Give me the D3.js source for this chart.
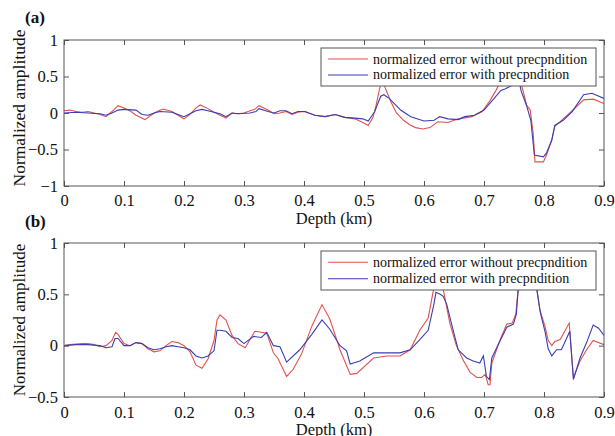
<!DOCTYPE html>
<html>
<head>
<meta charset="utf-8">
<script src="https://cdn.jsdelivr.net/npm/d3@7"></script>
<style>
  html, body { margin: 0; padding: 0; background: #fff; }
  svg text { font-family: "Liberation Serif", "Times New Roman", serif; fill: #111; }
</style>
</head>
<body>
<svg id="chart" width="615" height="436"></svg>
<script>
// ---- data ----
const depthTicks = [0, 0.1, 0.2, 0.3, 0.4, 0.5, 0.6, 0.7, 0.8, 0.9];
const ampTicksA = [-1, -0.5, 0, 0.5, 1];
const ampTicksB = [-0.5, 0, 0.5, 1];
const legendLabels = ["normalized error without precpndition", "normalized error with precpndition"];

// panel (a): without preconditioning
const depthA_red = [0,0.01,0.02,0.03,0.04,0.05,0.06,0.07,0.08,0.09,0.1,0.11,0.12,0.135,0.145,0.155,0.165,0.18,0.19,0.2,0.21,0.22,0.227,0.24,0.25,0.26,0.27,0.28,0.29,0.3,0.31,0.318,0.325,0.34,0.35,0.36,0.37,0.38,0.39,0.4,0.418,0.435,0.452,0.468,0.485,0.498,0.507,0.515,0.52,0.527,0.531,0.535,0.545,0.554,0.566,0.576,0.586,0.598,0.61,0.623,0.64,0.657,0.68,0.697,0.71,0.72,0.735,0.75,0.758,0.763,0.771,0.777,0.782,0.785,0.799,0.804,0.813,0.818,0.827,0.843,0.866,0.882,0.9];
const ampA_red   = [0.03,0.04,0.02,0.01,0.02,0,-0.02,-0.05,0.02,0.1,0.07,0.03,-0.03,-0.09,-0.03,0.02,0.055,0.02,-0.03,-0.08,-0.02,0.07,0.11,0.06,0.01,-0.03,-0.07,0,-0.01,0,0.03,0.05,0.1,0.04,-0.01,0,0.02,-0.02,0.01,0.02,-0.03,-0.05,-0.02,-0.06,-0.08,-0.13,-0.17,-0.06,0.1,0.37,0.5,0.35,0.15,0,-0.1,-0.16,-0.2,-0.22,-0.2,-0.12,-0.13,-0.08,-0.05,0.02,0.17,0.31,0.55,0.75,0.55,0.37,0.11,0.04,-0.28,-0.67,-0.67,-0.58,-0.37,-0.18,-0.12,0,0.18,0.19,0.13];
// panel (a): with preconditioning
const depthA_blue = [0,0.02,0.04,0.06,0.07,0.08,0.09,0.1,0.12,0.13,0.14,0.15,0.16,0.18,0.19,0.2,0.21,0.22,0.23,0.24,0.25,0.26,0.27,0.28,0.29,0.31,0.32,0.325,0.34,0.35,0.36,0.37,0.38,0.39,0.402,0.418,0.435,0.452,0.468,0.485,0.498,0.507,0.518,0.523,0.528,0.533,0.542,0.561,0.578,0.6,0.617,0.626,0.64,0.657,0.668,0.684,0.7,0.717,0.728,0.735,0.745,0.752,0.758,0.762,0.771,0.778,0.784,0.799,0.804,0.813,0.818,0.832,0.847,0.866,0.88,0.9];
const ampA_blue   = [0,0.01,0,-0.01,-0.03,0,0.04,0.05,0.04,-0.02,-0.03,0,0.02,0.01,-0.02,-0.05,-0.01,0.03,0.05,0.03,0.01,-0.01,-0.05,0,-0.01,0,0.02,0.06,0.02,0,0.03,0.03,-0.01,0.02,0.02,-0.03,-0.05,-0.02,-0.06,-0.07,-0.08,-0.11,0.02,0.13,0.23,0.25,0.2,0.04,-0.05,-0.11,-0.1,-0.05,-0.08,-0.09,-0.05,-0.03,0.04,0.2,0.31,0.33,0.37,0.7,0.45,0.3,0.1,-0.1,-0.575,-0.6,-0.55,-0.37,-0.17,-0.1,0.02,0.25,0.27,0.2];

// panel (b): without preconditioning
const depthB_red = [0,0.01,0.02,0.03,0.04,0.05,0.06,0.07,0.08,0.086,0.09,0.1,0.11,0.12,0.13,0.14,0.15,0.16,0.17,0.18,0.19,0.2,0.21,0.22,0.23,0.24,0.25,0.255,0.26,0.27,0.28,0.29,0.302,0.31,0.318,0.329,0.338,0.349,0.357,0.371,0.382,0.396,0.413,0.43,0.443,0.46,0.477,0.488,0.516,0.538,0.56,0.577,0.593,0.607,0.616,0.624,0.632,0.643,0.654,0.666,0.677,0.688,0.696,0.702,0.707,0.71,0.713,0.727,0.738,0.747,0.753,0.757,0.772,0.788,0.793,0.802,0.807,0.813,0.818,0.827,0.842,0.849,0.86,0.871,0.882,0.9];
const ampB_red   = [0,0.01,0.015,0.02,0.02,0.01,-0.01,0,0.05,0.13,0.11,0.02,0,0.03,0.02,-0.03,-0.06,-0.05,0,0.04,0.03,0,-0.06,-0.19,-0.22,-0.13,0.05,0.25,0.3,0.25,0.1,0.02,-0.02,0.06,0.14,0.13,0.12,-0.07,-0.13,-0.3,-0.23,-0.08,0.19,0.4,0.26,-0.04,-0.28,-0.27,-0.12,-0.1,-0.1,-0.04,0.15,0.27,0.55,0.68,0.55,0.22,0,-0.15,-0.26,-0.31,-0.31,-0.28,-0.38,-0.38,-0.17,0.06,0.21,0.22,0.31,0.55,0.85,0.55,0.35,0.18,0.05,0,0.04,0.06,0.22,-0.31,-0.15,-0.04,0.05,0.01];
// panel (b): with preconditioning
const depthB_blue = [0,0.02,0.04,0.06,0.07,0.08,0.085,0.09,0.1,0.11,0.12,0.13,0.14,0.15,0.16,0.17,0.18,0.19,0.2,0.21,0.22,0.23,0.24,0.25,0.255,0.26,0.27,0.28,0.29,0.3,0.316,0.329,0.338,0.349,0.36,0.371,0.393,0.413,0.43,0.443,0.46,0.471,0.477,0.493,0.516,0.538,0.56,0.577,0.593,0.607,0.616,0.62,0.627,0.632,0.638,0.646,0.657,0.671,0.682,0.693,0.699,0.704,0.709,0.713,0.727,0.738,0.749,0.754,0.757,0.772,0.788,0.794,0.802,0.807,0.813,0.821,0.829,0.843,0.849,0.86,0.871,0.882,0.891,0.9];
const ampB_blue   = [0,0.01,0.01,0,-0.02,-0.01,0.07,0.07,0,0,0.03,0.02,-0.02,-0.04,-0.03,-0.01,0,-0.01,-0.02,-0.04,-0.1,-0.12,-0.1,-0.05,0.15,0.15,0.14,0.08,0.07,0.02,0.09,0.08,0.13,0,-0.01,-0.16,-0.04,0.11,0.25,0.16,0,-0.05,-0.18,-0.15,-0.07,-0.07,-0.07,-0.04,0.06,0.15,0.39,0.52,0.5,0.48,0.4,0.21,-0.04,-0.12,-0.15,-0.17,-0.1,-0.3,-0.33,-0.12,0.05,0.18,0.21,0.31,0.55,0.82,0.55,0.32,0.13,-0.03,-0.1,-0.04,-0.04,0.14,-0.33,-0.12,0.03,0.2,0.17,0.1];

const RED = "#e0524c";
const BLUE = "#3c3cb4";

const svg = d3.select("#chart");

function zip(xs, ys) { return xs.map((x, i) => [x, ys[i]]); }

function drawPanel(p) {
  const x = d3.scaleLinear().domain([0, 0.9]).range([p.left, p.right]);
  const y = d3.scaleLinear().domain(p.yDomain).range([p.bottom, p.top]);
  const g = svg.append("g");

  const clipId = "clip-" + p.name;
  g.append("clipPath").attr("id", clipId)
    .append("rect")
    .attr("x", p.left).attr("y", p.top)
    .attr("width", p.right - p.left).attr("height", p.bottom - p.top);

  const line = d3.line().x(d => x(d[0])).y(d => y(d[1]));

  const curves = g.append("g").attr("clip-path", `url(#${clipId})`);
  curves.append("path").datum(zip(p.redX, p.redY))
    .attr("fill", "none").attr("stroke", RED).attr("stroke-width", 1.1)
    .attr("d", line);
  curves.append("path").datum(zip(p.blueX, p.blueY))
    .attr("fill", "none").attr("stroke", BLUE).attr("stroke-width", 1.1)
    .attr("d", line);

  // axes with inner ticks, mirrored on top/right
  const tk = 5;
  const xb = g.append("g").attr("transform", `translate(0,${p.bottom})`)
    .call(d3.axisBottom(x).tickValues(depthTicks).tickSizeInner(-tk).tickSizeOuter(0).tickFormat(d3.format("")).tickPadding(p.xPad));
  const xt = g.append("g").attr("transform", `translate(0,${p.top})`)
    .call(d3.axisTop(x).tickValues(depthTicks).tickSizeInner(-tk).tickSizeOuter(0).tickFormat(""));
  const yl = g.append("g").attr("transform", `translate(${p.left},0)`)
    .call(d3.axisLeft(y).tickValues(p.yTicks).tickSizeInner(-tk).tickSizeOuter(0).tickFormat(d3.format("")).tickPadding(6));
  const yr = g.append("g").attr("transform", `translate(${p.right},0)`)
    .call(d3.axisRight(y).tickValues(p.yTicks).tickSizeInner(-tk).tickSizeOuter(0).tickFormat(""));

  [xb, xt, yl, yr].forEach(a => {
    a.select(".domain").remove();
    a.selectAll(".tick line").attr("stroke", "#555");
    a.selectAll("text").attr("font-size", 16.5).attr("font-family", "Liberation Serif").attr("fill", "#111");
  });

  // frame
  g.append("rect")
    .attr("x", p.left).attr("y", p.top)
    .attr("width", p.right - p.left).attr("height", p.bottom - p.top)
    .attr("fill", "none").attr("stroke", "#555").attr("stroke-width", 1);

  // legend
  const lg = g.append("g");
  lg.append("rect")
    .attr("x", 321).attr("y", p.legTop)
    .attr("width", 275).attr("height", p.legH)
    .attr("fill", "#fff").attr("stroke", "#555").attr("stroke-width", 1);
  [RED, BLUE].forEach((c, i) => {
    const ly = p.legTop + p.legH * (i === 0 ? 0.29 : 0.71);
    lg.append("line").attr("x1", 328).attr("x2", 368).attr("y1", ly).attr("y2", ly)
      .attr("stroke", c).attr("stroke-width", 1.1);
    lg.append("text").attr("x", 373).attr("y", ly + 4.5)
      .attr("font-size", 14).text(legendLabels[i]);
  });

  // labels
  g.append("text").attr("x", (p.left + p.right) / 2).attr("y", p.xLabelY)
    .attr("text-anchor", "middle").attr("font-size", 16.5).text("Depth (km)");
  g.append("text")
    .attr("transform", `translate(25,${p.yLabelC}) rotate(-90)`)
    .attr("text-anchor", "middle").attr("font-size", p.yLabelSize).text("Normalized amplitude");
  g.append("text").attr("x", 25).attr("y", p.tagY)
    .attr("font-size", 17).attr("font-weight", "bold").text(p.tag);
}

drawPanel({
  name: "a", tag: "(a)", tagY: 23,
  left: 64, right: 604, top: 40, bottom: 186,
  yDomain: [-1, 1], yTicks: ampTicksA, xPad: 8,
  redX: depthA_red, redY: ampA_red, blueX: depthA_blue, blueY: ampA_blue,
  legTop: 48, legH: 38,
  xLabelY: 224, yLabelC: 108, yLabelSize: 17.5
});

drawPanel({
  name: "b", tag: "(b)", tagY: 227,
  left: 64, right: 604, top: 243, bottom: 397,
  yDomain: [-0.5, 1], yTicks: ampTicksB, xPad: 9,
  redX: depthB_red, redY: ampB_red, blueX: depthB_blue, blueY: ampB_blue,
  legTop: 251, legH: 39,
  xLabelY: 435, yLabelC: 320, yLabelSize: 17
});
</script>
</body>
</html>
